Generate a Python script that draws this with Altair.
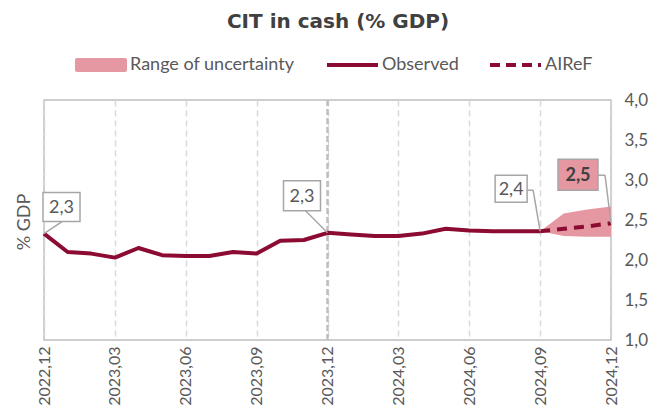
import altair as alt
import pandas as pd

# ---------------- data ----------------
obs_months = ["2022-12", "2023-01", "2023-02", "2023-03", "2023-04", "2023-05", "2023-06",
              "2023-07", "2023-08", "2023-09", "2023-10", "2023-11", "2023-12",
              "2024-01", "2024-02", "2024-03", "2024-04", "2024-05", "2024-06",
              "2024-07", "2024-08", "2024-09"]
obs_values = [2.33, 2.10, 2.08, 2.03, 2.15, 2.06, 2.05,
              2.05, 2.10, 2.08, 2.24, 2.25, 2.34,
              2.32, 2.30, 2.30, 2.33, 2.39, 2.37,
              2.36, 2.36, 2.36]

fc_months = ["2024-09", "2024-10", "2024-11", "2024-12"]
fc_central = [2.36, 2.39, 2.42, 2.46]
fc_low = [2.36, 2.30, 2.29, 2.29]
fc_high = [2.36, 2.58, 2.63, 2.67]

tick_labels = ["2022,12", "2023,03", "2023,06", "2023,09", "2023,12",
               "2024,03", "2024,06", "2024,09", "2024,12"]
y_ticks = [1, 1.5, 2, 2.5, 3, 3.5, 4]

ann_months = ["2022-12", "2023-12", "2024-09", "2024-12"]
ann_values = [2.33, 2.34, 2.36, 2.46]
ann_labels = ["2,3", "2,3", "2,4", "2,5"]

legend_labels = ["Range of uncertainty", "Observed", "AIReF"]
y_title = "% GDP"
chart_title = "CIT in cash (% GDP)"


def month_index(m):
    y, mo = m.split("-")
    return (int(y) - 2022) * 12 + int(mo) - 12


obs_df = pd.DataFrame({"idx": [month_index(m) for m in obs_months], "value": obs_values})
fc_df = pd.DataFrame({"idx": [month_index(m) for m in fc_months], "value": fc_central,
                      "low": fc_low, "high": fc_high})

# ---------------- style ----------------
FONT = "Lato"
TXT = "#595959"
LINE = "#8C0B32"
BAND = "#E597A2"
BORDER = "#BFBFBF"
LEADER = "#A6A6A6"

W, H = 567, 240

label_expr = "[" + ",".join(f"'{t}'" for t in tick_labels) + "][round(datum.value/3)]"

x_scale = alt.Scale(domain=[0, 24], nice=False, zero=False)
x_axis = alt.Axis(values=list(range(0, 25, 3)), labelExpr=label_expr,
                  labelAngle=270, labelAlign="right", labelBaseline="middle",
                  labelPadding=6, labelFontSize=16, labelFont=FONT,
                  labelColor=TXT, ticks=False, domain=False,
                  grid=True, gridDash=[6, 4], gridColor="#D9D9D9",
                  gridWidth=1.5, title=None)
y_scale = alt.Scale(domain=[1, 4], nice=False, zero=False)
y_axis = alt.Axis(orient="right", values=y_ticks,
                  labelExpr="replace(format(datum.value, '.1f'), '.', ',')",
                  labelFontSize=17, labelFont=FONT, labelColor=TXT,
                  labelPadding=13, ticks=False, domain=False, grid=False,
                  title=None)


def X(field="idx:Q"):
    return alt.X(field, scale=x_scale, axis=x_axis)


def Y(field="value:Q"):
    return alt.Y(field, scale=y_scale, axis=y_axis)


base_obs = alt.Chart(obs_df)
base_fc = alt.Chart(fc_df)

band = base_fc.mark_area(color=BAND, opacity=1).encode(
    x=X(), y=Y("low:Q"), y2="high:Q")

mid_rule = alt.Chart(pd.DataFrame({"idx": [12]})).mark_rule(
    color=BORDER, strokeWidth=2.5, strokeDash=[6, 3]).encode(x=X())

obs_line = base_obs.mark_line(color=LINE, strokeWidth=4, strokeJoin="round").encode(
    x=X(), y=Y())
fc_line = base_fc.mark_line(color=LINE, strokeWidth=4, strokeDash=[10, 7]).encode(
    x=X(), y=Y())

# annotation boxes: (box offsets left,right,top,bottom ; leader segments)
ann_style = [
    dict(box=(-1, 36, -41, -12), fill="white", bold=False,
         leaders=[((0, 0), (18, -12))]),
    dict(box=(-44, -7, -52, -22), fill="white", bold=False,
         leaders=[((0, 0), (-22, -22))]),
    dict(box=(-45, -13, -56, -29), fill="white", bold=False,
         leaders=[((0, 0), (-7, -41)), ((-7, -41), (-13, -41))]),
    dict(box=(-53, -13, -64, -33), fill=BAND, bold=True,
         leaders=[((0, 0), (-6, -48)), ((-6, -48), (-13, -48))]),
]

ann_layers = []
for i, st in enumerate(ann_style):
    df = pd.DataFrame({"idx": [month_index(ann_months[i])], "value": [ann_values[i]],
                       "label": [ann_labels[i]]})
    c = alt.Chart(df)
    for (p0, p1) in st["leaders"]:
        ann_layers.append(c.mark_rule(color=LEADER, strokeWidth=1.5,
                                      xOffset=p0[0], yOffset=p0[1],
                                      x2Offset=p1[0], y2Offset=p1[1]).encode(
            x=X(), x2="idx:Q", y=Y(), y2="value:Q"))
    l, r, t, b = st["box"]
    ann_layers.append(c.mark_rect(fill=st["fill"], stroke="#A6A6A6", strokeWidth=1.5,
                                  xOffset=l, x2Offset=r, yOffset=t, y2Offset=b).encode(
        x=X(), x2="idx:Q", y=Y(), y2="value:Q"))
    ann_layers.append(c.mark_text(font=FONT, fontSize=18,
                                  fontWeight="bold" if st["bold"] else "normal",
                                  color="#404040" if st["bold"] else TXT,
                                  dx=(l + r) / 2, dy=(t + b) / 2 + 1,
                                  align="center", baseline="middle").encode(
        x=X(), y=Y(), text="label:N"))

# manual legend
leg_df = pd.DataFrame({"label": legend_labels})
LY = -35
leg_rect = alt.Chart(leg_df.iloc[[0]]).mark_rect(color=BAND, cornerRadius=2).encode(
    x=alt.value(31), x2=alt.value(83), y=alt.value(LY - 7), y2=alt.value(LY + 7))
leg_obs = alt.Chart(leg_df.iloc[[1]]).mark_rule(color=LINE, strokeWidth=4).encode(
    x=alt.value(283), x2=alt.value(334), y=alt.value(LY))
leg_fc = alt.Chart(leg_df.iloc[[2]]).mark_rule(color=LINE, strokeWidth=4,
                                               strokeDash=[10, 6]).encode(
    x=alt.value(446), x2=alt.value(497), y=alt.value(LY))
leg_txt = []
for i, xpos in enumerate([86, 338, 501]):
    leg_txt.append(alt.Chart(leg_df.iloc[[i]]).mark_text(
        font=FONT, fontSize=18, color=TXT, align="left", baseline="middle").encode(
        x=alt.value(xpos), y=alt.value(LY), text="label:N"))

ytitle = alt.Chart(pd.DataFrame({"t": [y_title]})).mark_text(
    font=FONT, fontSize=18, color=TXT, angle=270, align="center",
    baseline="middle").encode(x=alt.value(-19), y=alt.value(122), text="t:N")

title_txt = alt.Chart(pd.DataFrame({"t": [chart_title]})).mark_text(
    font="DejaVu Sans", fontSize=20, fontWeight="bold", color="#404040", align="center",
    baseline="middle").encode(x=alt.value(294), y=alt.value(-78), text="t:N")

chart = alt.layer(band, mid_rule, obs_line, fc_line, *ann_layers,
                  leg_rect, leg_obs, leg_fc, *leg_txt, ytitle, title_txt).properties(
    width=W, height=H,
    autosize=alt.AutoSizeParams(type="none"),
    padding={"left": 36, "top": 92, "right": 48, "bottom": 70},
).configure_view(stroke=BORDER, strokeWidth=1.5)

chart.save("out.html", embed_options={"renderer": "svg", "actions": False})
